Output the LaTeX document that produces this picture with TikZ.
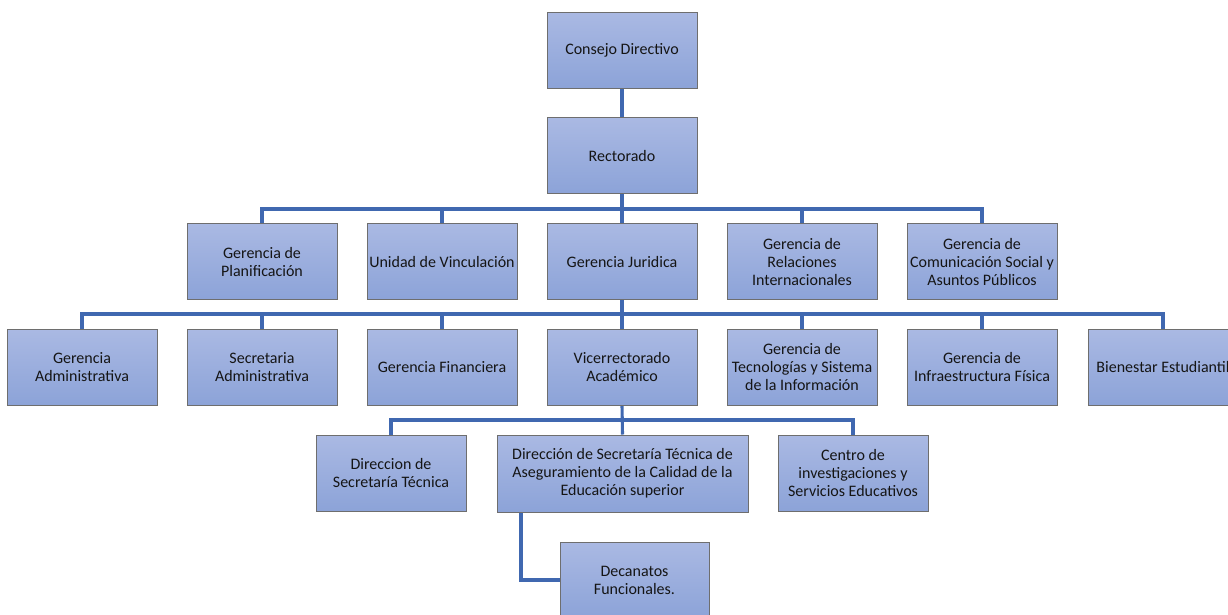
\documentclass[tikz,border=0pt]{standalone}
\usepackage{fontspec}
\setmainfont{Carlito}
\usetikzlibrary{backgrounds}
\definecolor{boxtop}{HTML}{AAB9E3}
\definecolor{boxbot}{HTML}{8CA3D8}
\definecolor{boxline}{HTML}{6E6E6E}
\definecolor{link}{HTML}{4068B0}
\definecolor{ink}{HTML}{151515}
\tikzset{
  unit/.style={draw=boxline, line width=1pt, top color=boxtop, bottom color=boxbot,
    minimum width=150pt, minimum height=76pt, inner sep=1pt, align=center,
    text=ink, font=\fontsize{16}{18}\selectfont},
  wide/.style={unit, minimum width=251pt, minimum height=77pt},
  wire/.style={draw=link, line width=3.1pt}
}
\begin{document}
\begin{tikzpicture}[x=1pt, y=-1pt]
\useasboundingbox (0,0) rectangle (1228,614);
\clip (0,0) rectangle (1228,614);

% top of the hierarchy
\node[unit] (cd)  at (622,50)    {Consejo Directivo};
\node[unit] (rec) at (622,155.5) {Rectorado};

% second level
\node[unit] (plan) at (262,261.5) {Gerencia de\\Planificación};
\node[unit] (vinc) at (442,261.5) {Unidad de Vinculación};
\node[unit] (jur)  at (622,261.5) {Gerencia Juridica};
\node[unit] (rri)  at (802,261.5) {Gerencia de\\Relaciones\\Internacionales};
\node[unit] (com)  at (982,261.5) {Gerencia de\\Comunicación Social y\\Asuntos Públicos};

% third level
\node[unit] (adm)  at (82,367)   {Gerencia\\Administrativa};
\node[unit] (sec)  at (262,367)  {Secretaria\\Administrativa};
\node[unit] (fin)  at (442,367)  {Gerencia Financiera};
\node[unit] (vic)  at (622,367)  {Vicerrectorado\\Académico};
\node[unit] (tec)  at (802,367)  {Gerencia de\\Tecnologías y Sistema\\de la Información};
\node[unit] (inf)  at (982,367)  {Gerencia de\\Infraestructura Física};
\node[unit] (bien) at (1163,367) {Bienestar Estudiantil};

% fourth level
\node[unit] (dst)  at (391,473)   {Direccion de\\Secretaría Técnica};
\node[wide] (dsta) at (622.5,473.5) {Dirección de Secretaría Técnica de\\Aseguramiento de la Calidad de la\\Educación superior};
\node[unit] (cin)  at (853,473)   {Centro de\\investigaciones y\\Servicios Educativos};
\node[unit, minimum width=149pt] (dec) at (634.5,580) {Decanatos\\Funcionales.};

% bus points of each level
\coordinate (b1) at (622,209);
\coordinate (b2) at (622,314);
\coordinate (b3) at (622,420);

\begin{scope}[on background layer]
  \draw[wire] (cd.south) -- (rec.north);
  \draw[wire] (rec.south) -- (vic.north);
  \foreach \n in {plan,vinc,rri,com} \draw[wire] (\n.north) |- (b1);
  \foreach \n in {adm,sec,fin,tec,inf,bien} \draw[wire] (\n.north) |- (b2);
  \draw[wire] (vic.south) -- (dsta.north);
  \foreach \n in {dst,cin} \draw[wire] (\n.north) |- (b3);
  \draw[wire] ([xshift=-101.5pt]dsta.south) |- (dec.west);
\end{scope}
\end{tikzpicture}
\end{document}
